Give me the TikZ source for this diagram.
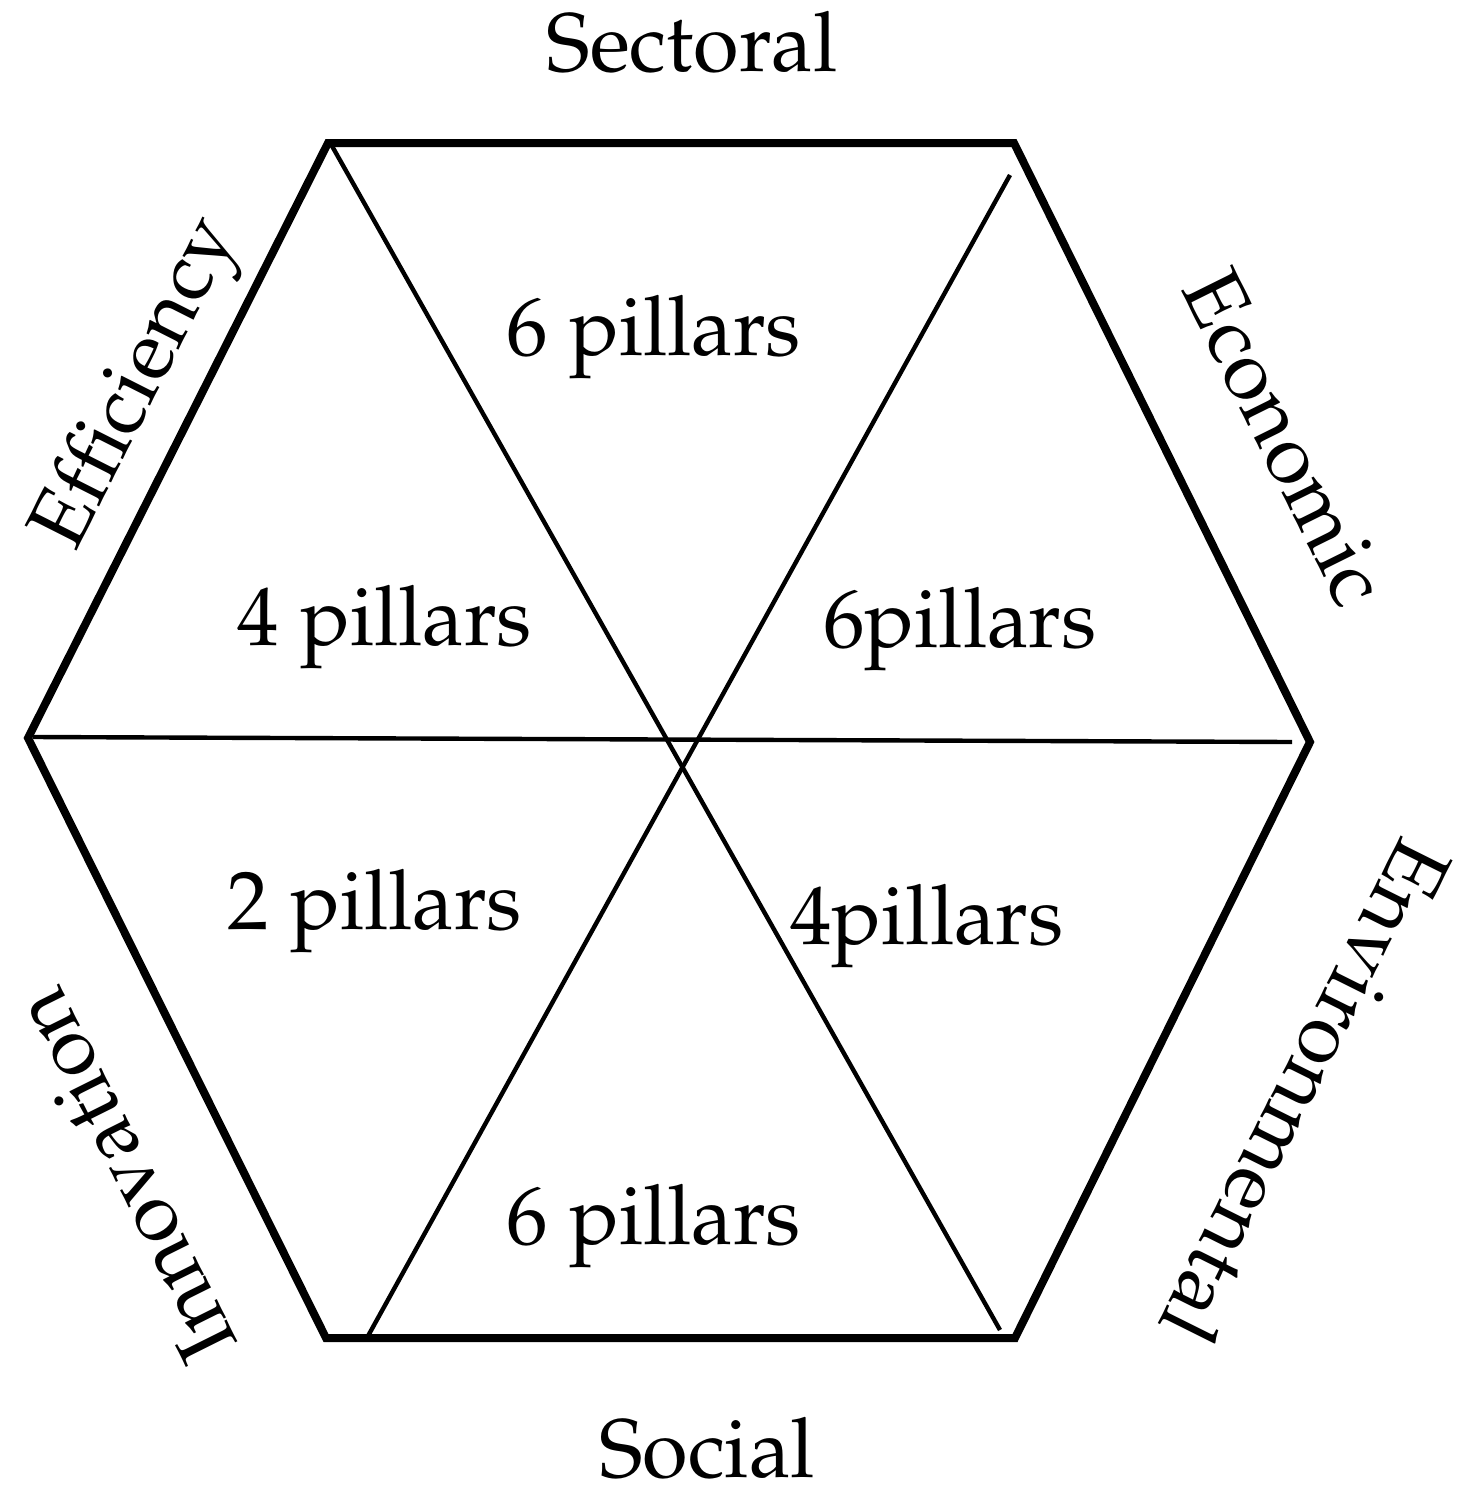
\documentclass[tikz,border=0pt]{standalone}
\usepackage[T1]{fontenc}
\usepackage{mathpazo}
\tikzset{
  hexedge/.style={line width=4pt, line join=miter},
  divider/.style={line width=2.2pt},
  lbl/.style={font=\fontsize{41.5}{49}\selectfont, inner sep=0pt, anchor=base},
  side/.style={font=\fontsize{41.5}{49}\selectfont, inner sep=0pt},
}
\begin{document}
\begin{tikzpicture}[x=0.5pt,y=-0.5pt]
\useasboundingbox (0,0) rectangle (1471,1509);
% hexagon vertices
\coordinate (TL) at (328,143);
\coordinate (TR) at (1014,143);
\coordinate (R)  at (1310,742);
\coordinate (BR) at (1015,1338);
\coordinate (BL) at (326,1338);
\coordinate (L)  at (28,738);
% inner line end points
\coordinate (a1) at (332,146);
\coordinate (a2) at (1000,1330);
\coordinate (b1) at (1010,175);
\coordinate (b2) at (368,1336);
\coordinate (h1) at (33,737);
\coordinate (h2) at (1292,742);
% dividers
\draw[divider] (a1) -- (a2);
\draw[divider] (b1) -- (b2);
\draw[divider] (h1) -- (h2);
% hexagon
\draw[hexedge] (TL) -- (TR) -- (R) -- (BR) -- (BL) -- (L) -- cycle;
% segment labels
\node[lbl] (p1) at (654,355) {6 pillars};
\node[lbl] (p2) at (385,645) {4 pillars};
\node[lbl] (p3) at (960,647) {6pillars};
\node[lbl] (p4) at (375,929) {2 pillars};
\node[lbl] (p5) at (927,944) {4pillars};
\node[lbl] (p6) at (654,1244) {6 pillars};
% side labels
\node[lbl] (sec) at (692,72) {Sectoral};
\node[lbl] (soc) at (707,1477) {Social};
\node[side, rotate=63.2] (eff) at (140,385) {Efficiency};
\node[side, rotate=-63.6] (eco) at (1286,438) {Economic};
\node[side, rotate=-116.5] (env) at (1306,1092) {Environmental};
\node[side, rotate=116.5] (inn) at (124,1176) {Innovation};
\end{tikzpicture}
\end{document}
